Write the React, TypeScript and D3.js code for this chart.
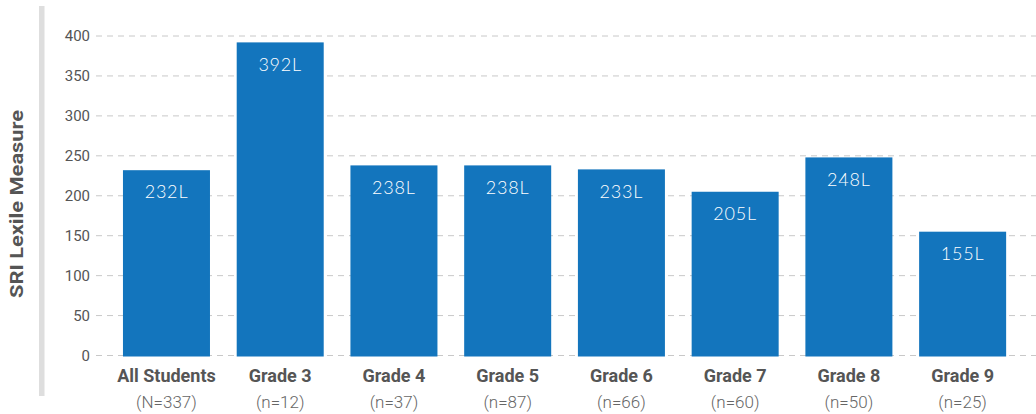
import React from "react";
import * as d3 from "d3";

const categories = ["All Students", "Grade 3", "Grade 4", "Grade 5", "Grade 6", "Grade 7", "Grade 8", "Grade 9"];
const counts = ["(N=337)", "(n=12)", "(n=37)", "(n=87)", "(n=66)", "(n=60)", "(n=50)", "(n=25)"];
const values = [232, 392, 238, 238, 233, 205, 248, 155];
const yTicks = [0, 50, 100, 150, 200, 250, 300, 350, 400];

const W = 1036;
const H = 414;

export default function App() {
  const x = d3.scaleBand<string>().domain(categories).range([109.6, 1019.5]).paddingInner(0.235).paddingOuter(0.1175);
  const y = d3.scaleLinear().domain([0, 400]).range([355.5, 36]);
  const condensed = "'Liberation Sans Narrow', 'Roboto', sans-serif";
  return (
    <svg width={W} height={H} style={{ position: "absolute", left: 0, top: 0 }}>
      <rect x={0} y={0} width={W} height={H} fill="#fff" />
      <rect x={39} y={6} width={5.5} height={390} fill="#dedede" />
      {yTicks.map((t) => (
        <g key={t}>
          <line x1={96} x2={W} y1={y(t)} y2={y(t)} stroke="#c8c8c8" strokeWidth={1} strokeDasharray="6,5" />
          <text x={90} y={y(t)} dy="0.35em" textAnchor="end" fontFamily="Roboto, sans-serif" fontSize={15} fill="#555">
            {t}
          </text>
        </g>
      ))}
      {values.map((v, i) => {
        const c = categories[i];
        const bx = x(c) as number;
        const bw = x.bandwidth();
        return (
          <g key={c}>
            <rect x={bx} y={y(v)} width={bw} height={y(0) - y(v) + 1} fill="#1375bd" />
            <text x={bx + bw / 2} y={y(v) + 22} dy="0.35em" textAnchor="middle" fontFamily="Lato, sans-serif" fontWeight={300} fontSize={18} fill="#fff" letterSpacing="0.8">
              {v}L
            </text>
            <text x={bx + bw / 2} y={376} dy="0.35em" textAnchor="middle" fontFamily={condensed} fontWeight="bold" fontSize={18} fill="#555">
              {c}
            </text>
            <text x={bx + bw / 2} y={402} dy="0.35em" textAnchor="middle" fontFamily={condensed} fontWeight={300} fontSize={17} fill="#666">
              {counts[i]}
            </text>
          </g>
        );
      })}
      <text transform="translate(16.5,204) rotate(-90)" dy="0.35em" textAnchor="middle" fontFamily="Roboto, sans-serif" fontWeight="bold" fontSize={19} fill="#555" textLength={188} lengthAdjust="spacingAndGlyphs">
        SRI Lexile Measure
      </text>
    </svg>
  );
}
